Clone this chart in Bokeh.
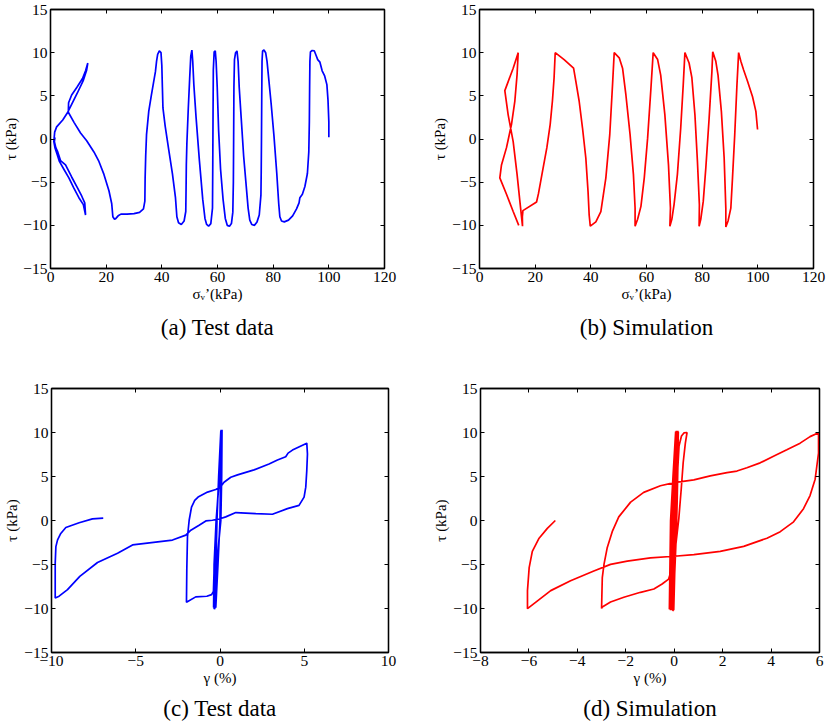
from bokeh.plotting import figure
from bokeh.layouts import column, row
from bokeh.models import LinearAxis, Title, FixedTicker, Range1d
from bokeh.embed import file_html
from bokeh.resources import INLINE

# ---------------- data ----------------
# (a) test data: effective vertical stress (kPa) vs shear stress (kPa)
sig_a = [100.0, 100.0, 99.7, 99.3, 98.5, 97.6, 96.8, 96.0, 95.4, 94.8, 94.0, 93.4,
         93.2, 93.1, 93.0, 92.8, 92.3, 91.4, 90.5, 89.6, 89.3, 88.4, 87.0, 85.5, 84.0, 83.0,
         82.4, 82.0, 81.3, 80.3, 79.3, 78.4, 77.8, 77.3, 76.7, 76.2,
         76.0, 75.9, 75.8, 75.7, 75.6, 75.0, 74.2, 73.3, 72.3, 71.6,
         71.0, 70.2, 69.4, 68.5, 67.8, 67.4, 67.0, 66.5, 66.1,
         65.9, 65.8, 65.7, 65.5, 65.0, 64.3, 63.5, 62.8,
         62.0, 61.1, 60.4, 59.9, 59.5, 59.2, 58.8, 58.5,
         58.4, 58.3, 58.2, 57.6, 56.8, 56.1, 55.5,
         54.7, 53.5, 52.3, 51.5, 51.1, 50.8, 50.4, 50.0,
         49.5, 49.0, 48.8, 48.7, 48.6, 48.0, 47.0, 46.0, 45.4,
         44.9, 43.8, 42.5, 41.2, 40.4, 40.2, 40.0, 39.7, 39.1, 38.5, 38.1, 37.7,
         37.0, 36.2, 35.3, 34.5, 34.2, 34.0, 33.9, 33.4, 32.0, 30.0, 27.5, 25.3, 24.3, 23.5, 23.0, 22.4,
         22.0, 21.0, 19.2, 17.4, 15.6, 13.0, 10.8, 8.5, 6.4, 6.5, 7.6, 9.5, 11.5, 12.6, 13.4,
         13.0, 11.8, 9.6, 7.6, 6.2, 4.4, 2.2, 1.5, 1.2, 1.6, 2.4, 3.2, 4.8, 6.6, 8.4, 10.2, 11.8, 12.6,
         12.3, 11.2, 9.6, 7.6, 5.4, 3.6, 2.6, 1.9, 1.4, 1.6]
tau_a = [0.2, 2.0, 4.5, 6.3, 7.3, 7.9, 8.9, 9.2, 9.7, 10.2, 10.25, 10.1,
         9.0, 6.0, 2.0, -1.5, -4.0, -5.5, -6.4, -6.8, -7.4, -8.1, -8.9, -9.4, -9.6, -9.5,
         -9.0, -7.5, -4.0, 0.3, 4.0, 7.0, 9.0, 10.0, 10.3, 10.2,
         9.0, 5.0, 0.0, -4.0, -6.5, -8.8, -9.6, -10.0, -9.9, -9.4,
         -8.0, -5.0, -2.0, 2.5, 6.0, 9.0, 10.2, 10.0, 9.2,
         6.0, 0.0, -5.0, -8.5, -9.8, -10.1, -10.0, -9.2,
         -7.0, -3.5, 1.0, 6.0, 9.0, 10.2, 10.1, 8.0,
         3.0, -3.0, -8.0, -9.8, -10.1, -9.9, -9.2,
         -7.0, -2.5, 2.5, 6.3, 9.0, 10.3, 9.6, 7.0,
         3.5, -0.5, -3.0, -6.0, -8.4, -9.5, -9.9, -9.7, -9.0,
         -6.8, -4.0, -1.3, 1.5, 3.6, 6.0, 8.5, 10.0, 10.2, 9.8, 9.0, 7.8,
         6.5, 5.0, 3.2, 0.5, -2.0, -4.5, -7.2, -8.1, -8.5, -8.65, -8.7, -8.7, -8.9, -9.2, -9.3, -9.0,
         -7.5, -6.0, -4.1, -2.6, -1.5, -0.2, 0.7, 1.9, 3.1, 4.2, 5.1, 6.0, 7.0, 7.9, 8.8,
         8.0, 6.8, 5.3, 4.0, 3.1, 2.2, 1.4, 0.8, -0.3, -1.0, -1.8, -2.6, -3.5, -4.5, -5.7, -6.8, -7.6, -8.8,
         -7.4, -6.6, -5.6, -4.4, -3.0, -2.5, -1.5, -1.0, -0.3, 0.2]

# (b) simulation: effective vertical stress vs shear stress
sig_b = [99.9, 99.3, 98.1, 96.3, 94.9, 93.9, 93.1,
         92.5, 91.7, 90.9, 90.3, 89.3, 88.5,
         88.5, 87.9, 86.9, 85.7, 84.9, 83.8,
         83.5, 82.5, 81.3, 80.4, 79.5, 78.9,
         79.0, 78.3, 77.4, 76.3, 75.3, 73.8,
         73.2, 72.3, 71.1, 69.9, 69.1, 68.4,
         68.6, 67.9, 66.6, 65.1, 64.0, 62.4,
         61.6, 60.4, 59.2, 58.0, 56.8, 55.9,
         55.9, 55.3, 54.1, 52.6, 51.4, 50.2, 48.4,
         47.8, 46.8, 45.4, 43.6, 41.8, 39.8,
         39.4, 39.0, 38.2, 37.0, 35.8, 34.6, 33.8, 30.4, 27.2,
         26.8, 26.2, 25.4, 24.2, 22.6, 21.2, 20.5, 15.6, 15.4, 15.45,
         14.5, 13.5, 12.1, 10.3, 9.1, 12.1, 13.9,
         13.5, 12.7, 11.5, 9.7, 7.9, 7.3,
         9.7, 12.1, 14.1]
tau_b = [1.1, 3.2, 4.9, 6.7, 8.0, 9.0, 10.0,
         6.3, 0.5, -4.5, -8.0, -9.5, -10.2,
         -8.0, -2.2, 3.2, 7.4, 9.0, 10.1,
         7.8, 2.4, -3.4, -7.2, -9.3, -10.1,
         -7.6, -2.6, 2.8, 7.1, 8.8, 10.0,
         6.3, 1.3, -4.1, -7.6, -9.3, -10.1,
         -8.0, -3.0, 2.8, 7.4, 9.2, 10.0,
         5.9, 0.1, -4.5, -7.8, -9.3, -10.1,
         -8.0, -4.1, 0.5, 5.1, 8.2, 9.4, 10.0,
         6.3, 0.5, -4.5, -8.4, -9.6, -10.1,
         -8.8, -6.1, -2.2, 1.3, 4.4, 6.7, 8.2, 9.2, 10.0,
         7.1, 4.4, 1.7, -1.0, -3.8, -6.3, -7.3, -8.3, -9.0, -10.1,
         -7.2, -4.1, -0.3, 2.8, 5.6, 8.2, 10.0,
         7.45, 4.4, 1.7, -1.0, -3.0, -4.5,
         -6.4, -8.4, -10.0]

# (c) test data: shear strain (%) vs shear stress (kPa)
gam_c = [0.0, 0.03, 0.05, -0.08, -0.18, -0.24, -0.25,
         -0.12, 0.0, 0.05, 0.07, -0.06, -0.2, -0.28, -0.3,
         -0.15, 0.02, 0.07, 0.09, -0.05, -0.21, -0.3, -0.33,
         -0.17, 0.03, 0.08, 0.1, -0.04, -0.22, -0.33, -0.36,
         -0.19, 0.04, 0.1, 0.12, -0.03, -0.23, -0.35, -0.38,
         -0.2, 0.05, 0.1, 0.1, -0.05, -0.22, -0.34, -0.39,
         -0.5, -0.78, -1.44, -1.99,
         -1.97, -1.93, -1.83, -1.69, -1.5, -1.3, -0.74, -0.25, 0.05, 0.24, 0.64, 1.04, 2.02,
         2.91, 3.41, 3.9, 4.04, 4.3, 5.15,
         5.19, 5.15, 5.09, 4.99, 4.69, 4.0, 3.11, 2.12, 0.94, 0.34, 0.05, -0.45, -0.84,
         -1.24, -1.73, -2.03, -2.82, -5.19, -6.08, -7.27, -8.32, -9.05, -9.55, -9.78,
         -9.78, -9.74, -9.64, -9.45, -9.15, -8.36, -7.57, -6.93]
tau_c = [0.0, 5.0, 10.2, 5.0, 0.0, -5.0, -9.9,
         -5.0, 0.0, 5.0, 10.3, 5.0, 0.0, -5.0, -10.0,
         -5.0, 0.0, 5.0, 10.2, 5.0, 0.0, -5.0, -10.1,
         -5.0, 0.0, 5.0, 10.2, 5.0, 0.0, -5.0, -10.0,
         -5.0, 0.0, 5.0, 10.3, 5.0, 0.0, -5.0, -9.9,
         -5.0, 0.0, 5.0, 10.2, 5.0, 0.0, -5.0, -8.05,
         -8.42, -8.61, -8.68, -9.29,
         -5.6, -1.85, 0.03, 1.53, 2.29, 2.66, 3.23, 3.53, 3.87, 4.35, 4.92, 5.18, 5.75,
         6.43, 6.88, 7.25, 7.66, 8.0, 8.79,
         7.55, 5.67, 3.79, 2.66, 1.72, 1.35, 0.71, 0.79, 0.9, 0.41, 0.22, 0.03, -0.05,
         -0.53, -1.1, -1.66, -2.22, -2.78, -3.72, -4.77, -6.35, -7.86, -8.6, -8.8,
         -4.85, -2.97, -2.2, -1.47, -0.79, -0.26, 0.19, 0.26]

# (d) simulation: shear strain (%) vs shear stress (kPa)
gam_d = [0.0, 0.03, 0.06, -0.05, -0.15, -0.2,
         -0.08, 0.02, 0.09, -0.02, -0.1, -0.15,
         -0.05, 0.05, 0.12, 0.02, -0.06, -0.1,
         -0.02, 0.07, 0.15, 0.05, -0.01, -0.05,
         0.0, 0.09, 0.17, 0.08, 0.02, -0.02,
         0.02, 0.08, 0.12, 0.15, 0.2, 0.3, 0.4, 0.53,
         0.46, 0.37, 0.29, 0.19, 0.05, -0.09, -0.23, -0.5, -0.84, -1.39, -2.08, -2.63, -2.97, -3.0,
         -2.97, -2.9, -2.77, -2.56, -2.29, -1.8, -1.26, -0.57, 0.0, 0.81, 1.49, 2.18, 2.59, 3.0,
         3.55, 4.1, 4.65, 5.2, 5.61, 5.96,
         5.96, 5.82, 5.61, 5.34, 4.93, 4.38, 3.83, 2.87, 1.9, 0.81, 0.0, -0.98, -1.94, -2.63,
         -3.32, -4.28, -5.1, -6.06,
         -6.06, -5.99, -5.86, -5.58, -5.24, -4.91]
tau_d = [0.0, 5.0, 10.1, 5.0, 0.0, -10.1,
         -5.0, 0.0, 10.2, 5.0, 0.0, -10.2,
         -5.0, 0.0, 10.1, 5.0, 0.0, -10.2,
         -5.0, 0.0, 10.2, 5.0, 0.0, -10.3,
         -5.0, 0.0, 10.1, 5.0, 0.0, -10.2,
         -6.0, -2.0, 2.0, 6.0, 8.5, 9.6, 9.95, 10.0,
         8.79, 6.56, 3.58, 0.22, -3.13, -5.36, -6.66, -7.22, -7.78, -8.16, -8.72, -9.27, -9.83, -10.0,
         -6.48, -4.99, -3.13, -1.27, 0.41, 2.09, 3.2, 3.95, 4.3, 4.62, 5.07, 5.44, 5.62, 6.0,
         6.55, 7.3, 8.04, 8.79, 9.53, 9.98,
         7.67, 4.69, 2.83, 1.34, -0.15, -1.27, -2.01, -2.94, -3.5, -3.87, -4.06, -4.25, -4.62, -4.99,
         -5.74, -6.85, -7.97, -10.02,
         -7.97, -5.36, -3.5, -2.01, -0.89, 0.0]

y_ticks = [-15, -10, -5, 0, 5, 10, 15]
x_ticks_ab = [0, 20, 40, 60, 80, 100, 120]
x_ticks_c = [-10, -5, 0, 5, 10]
x_ticks_d = [-8, -6, -4, -2, 0, 2, 4, 6]

FONT = "Times New Roman, Liberation Serif, serif"


def minus_labels(ticks):
    return {t: ("\u2212" + str(abs(t)) if t < 0 else str(t)) for t in ticks}


def make(xr, xticks, xlabel, caption, w, h, bl, br, bt, bb, cap_standoff):
    p = figure(width=w, height=h, x_range=Range1d(*xr), y_range=Range1d(-15, 15),
               output_backend="svg", toolbar_location=None,
               min_border_left=bl, min_border_right=br, min_border_top=bt, min_border_bottom=bb)
    p.grid.visible = False
    p.outline_line_color = "black"
    p.outline_line_width = 1.3
    p.background_fill_color = "white"
    p.border_fill_color = "white"

    def style(ax, ticks, labels=True):
        ax.ticker = FixedTicker(ticks=ticks)
        ax.major_tick_in = 4
        ax.major_tick_out = 0
        ax.minor_tick_in = 0
        ax.minor_tick_out = 0
        ax.axis_line_color = "black"
        ax.axis_line_width = 1.3
        ax.major_tick_line_color = "black"
        if labels:
            ax.major_label_overrides = minus_labels(ticks)
            ax.major_label_text_font = FONT
            ax.major_label_text_font_size = "15.5px"
            ax.major_label_text_color = "black"
            ax.major_label_standoff = 3
            ax.axis_label_text_font = FONT
            ax.axis_label_text_font_size = "15px"
            ax.axis_label_text_font_style = "normal"
            ax.axis_label_text_color = "black"
            ax.axis_label_standoff = 1
        else:
            ax.major_label_text_font_size = "1px"
            ax.major_label_text_color = None
            ax.major_label_standoff = 0

    style(p.xaxis[0], xticks)
    p.xaxis[0].axis_label = xlabel
    style(p.yaxis[0], y_ticks)
    p.yaxis[0].axis_label = "\u03c4 (kPa)"
    top = LinearAxis()
    style(top, xticks, labels=False)
    right = LinearAxis()
    style(right, y_ticks, labels=False)
    p.add_layout(top, "above")
    p.add_layout(right, "right")
    p.add_layout(Title(text=caption, align="center", text_font=FONT, text_font_size="23px",
                       text_font_style="normal", text_color="black", standoff=cap_standoff), "below")
    return p


sig_label = "\u03c3\u1d65\u2019(kPa)"
gam_label = "\u03b3 (%)"

pa = make((0, 120), x_ticks_ab, sig_label, "(a) Test data", 410, 352, 50, 26, 9, 84, 16)
pa.line(sig_a, tau_a, line_color="#0000ff", line_width=1.7)

pb = make((0, 120), x_ticks_ab, sig_label, "(b) Simulation", 416, 352, 69, 13, 9, 84, 16)
pb.line(sig_b, tau_b, line_color="#ff0000", line_width=1.7)

pc = make((-10, 10), x_ticks_c, gam_label, "(c) Test data", 410, 374, 51, 22, 36, 73, 11)
pc.line(gam_c, tau_c, line_color="#0000ff", line_width=1.7)

pd = make((-8, 6), x_ticks_d, gam_label, "(d) Simulation", 416, 374, 70, 7, 32, 73, 11)
pd.line(gam_d, tau_d, line_color="#ff0000", line_width=1.7)

layout = column(row(pa, pb), row(pc, pd))
open("out.html", "w").write(file_html(layout, INLINE))
